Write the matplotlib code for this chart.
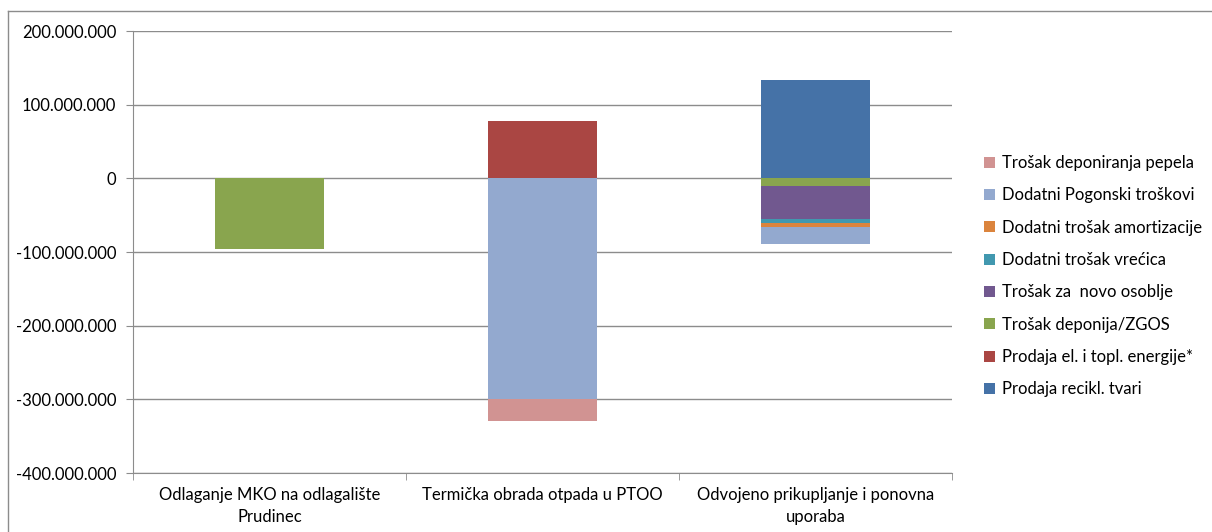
import numpy as np
import matplotlib.pyplot as plt
from matplotlib.ticker import FuncFormatter, MultipleLocator
from matplotlib.patches import Patch
from matplotlib.lines import Line2D

plt.rcParams['font.family'] = ['Lato', 'DejaVu Sans']

categories = ["Odlaganje MKO na odlagalište\nPrudinec",
              "Termička obrada otpada u PTOO",
              "Odvojeno prikupljanje i ponovna\nuporaba"]

# series in stacking order (first = closest to zero)
series_names = ["Prodaja recikl. tvari",
                "Prodaja el. i topl. energije*",
                "Trošak deponija/ZGOS",
                "Trošak za  novo osoblje",
                "Dodatni trošak vrećica",
                "Dodatni trošak amortizacije",
                "Dodatni Pogonski troškovi",
                "Trošak deponiranja pepela"]
recikl = [0, 0, 133e6]
energija = [0, 78.5e6, 0]
deponija = [-96e6, 0, -10e6]
osoblje = [0, 0, -45e6]
vrecica = [0, 0, -6e6]
amortizacija = [0, 0, -5e6]
pogonski = [0, -300e6, -22.5e6]
pepeo = [0, -30e6, 0]
colors = ["#4572A7", "#AA4643", "#89A54E", "#71588F",
          "#4198AF", "#DB843D", "#93A9CF", "#D19392"]

all_series = [recikl, energija, deponija, osoblje, vrecica, amortizacija, pogonski, pepeo]

fig = plt.figure(figsize=(12.12, 5.32), dpi=100)
ax = fig.add_axes([133/1212, 59/532, (952-133)/1212, (473-31)/532])

x = np.arange(len(categories))
pos_base = np.zeros(3)
neg_base = np.zeros(3)
for vals, col in zip(all_series, colors):
    vals = np.array(vals)
    base = np.where(vals >= 0, pos_base, neg_base)
    ax.bar(x, vals, bottom=base, width=0.4, color=col, zorder=3)
    pos_base += np.where(vals > 0, vals, 0)
    neg_base += np.where(vals < 0, vals, 0)

ax.set_xlim(-0.5, 2.5)
ax.set_ylim(-400e6, 200e6)
ax.yaxis.set_major_locator(MultipleLocator(100e6))
ax.yaxis.set_major_formatter(FuncFormatter(lambda v, p: f"{v:,.0f}".replace(",", ".")))
ax.grid(axis='y', color='#8c8c8c', linewidth=1, zorder=0)

for s in ['top', 'right']:
    ax.spines[s].set_visible(False)
ax.spines['left'].set_color('#8c8c8c')
ax.spines['bottom'].set_color('#8c8c8c')

ax.set_xticks(x)
ax.set_xticklabels(categories, fontsize=12, linespacing=1.45)
ax.tick_params(axis='x', length=0, pad=10)
ax.set_xticks([-0.5, 0.5, 1.5, 2.5], minor=True)
ax.tick_params(axis='x', which='minor', length=5, color='#8c8c8c', direction='out')
ax.tick_params(axis='y', length=5, color='#8c8c8c', labelsize=12, pad=7)

handles = [Patch(facecolor=c, label=n) for n, c in zip(series_names, colors)]
fig.legend(handles=handles[::-1], loc='upper left', bbox_to_anchor=(969/1212, 1 - 140/532),
           frameon=False, fontsize=12, handlelength=0.65, handleheight=0.65,
           handletextpad=0.4, labelspacing=0.98)

fig.add_artist(Line2D([8/1212, 1], [1 - 11/532, 1 - 11/532], color='#8c8c8c', lw=1))
fig.add_artist(Line2D([8/1212, 8/1212], [0, 1 - 11/532], color='#8c8c8c', lw=1))

fig.savefig("out.png", dpi=100)
